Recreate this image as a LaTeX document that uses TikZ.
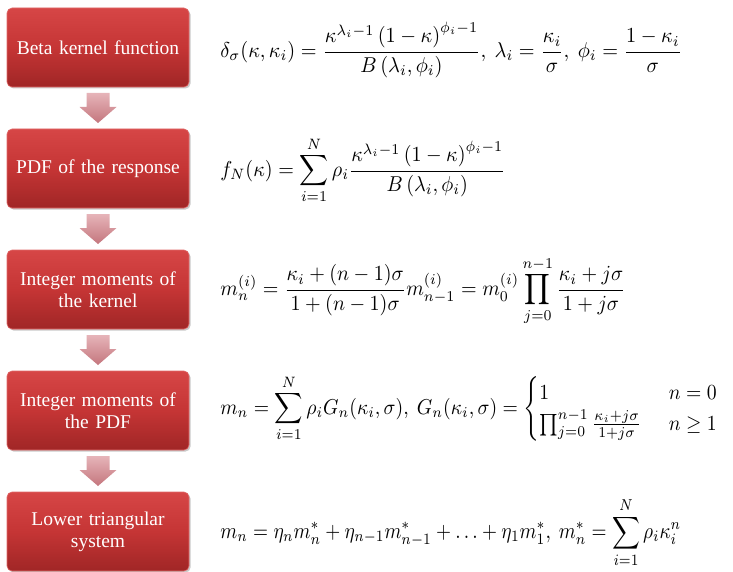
\documentclass[tikz,border=0pt]{standalone}
\usepackage{amsmath}
\usepackage{fontspec}
\setmainfont{Liberation Serif}
\usetikzlibrary{shadows,calc}
\definecolor{boxtop}{HTML}{D64646}
\definecolor{boxmid}{HTML}{C53535}
\definecolor{boxbot}{HTML}{A02626}
\definecolor{boxedge}{HTML}{E06A6A}
\definecolor{arrtop}{HTML}{E6B4B9}
\definecolor{arrbot}{HTML}{C4767D}
\begin{document}
\begin{tikzpicture}[x=1pt,y=-1pt,
  stepbox/.style={rounded corners=5pt, minimum width=182pt, minimum height=79pt,
    top color=boxtop, bottom color=boxbot, middle color=boxmid, draw=boxedge, line width=0.6pt,
    text=white, align=center, text width=170pt,
    font=\fontsize{19.5}{22}\selectfont,
    drop shadow={shadow xshift=1.5pt, shadow yshift=-1.5pt, opacity=0.35, fill=black!60}},
  formula/.style={anchor=base west, inner sep=0pt, font=\fontsize{10}{12}\selectfont, yscale=2.15, transform shape},
  arrowshade/.style={top color=arrtop, bottom color=arrbot, draw=none}
]
\useasboundingbox (0,0) rectangle (733,572);

\node[stepbox] (b1) at (98,47.5) {Beta kernel function};
\node[stepbox] (b2) at (98,168.5) {PDF of the response};
\node[stepbox] (b3) at (98,289.5) {Integer moments of\\the kernel};
\node[stepbox] (b4) at (98,410.5) {Integer moments of\\the PDF};
\node[stepbox] (b5) at (98,531.5) {Lower triangular\\system};

\foreach \a/\b in {b1/b2,b2/b3,b3/b4,b4/b5}{
  \coordinate (m) at ($(\a.south)!0.5!(\b.north)$);
  \path[arrowshade] ($(m)+(-11.5,-15)$) -- ++(23,0) -- ++(0,14) -- ++(7,0)
     -- ($(m)+(0,15)$) -- ($(m)+(-18.5,-1)$) -- ++(7,0) -- cycle;
}

\node[formula, xscale=2.03] (f1) at (220,57.4) {$\delta_\sigma(\kappa,\kappa_i)=\dfrac{\kappa^{\lambda_i-1}\left(1-\kappa\right)^{\phi_i-1}}{B\left(\lambda_i,\phi_i\right)},\ \lambda_i=\dfrac{\kappa_i}{\sigma},\ \phi_i=\dfrac{1-\kappa_i}{\sigma}$};
\node[formula, xscale=2.01] (f2) at (220,176.4) {$f_N(\kappa)=\displaystyle\sum_{i=1}^{N}\rho_i\frac{\kappa^{\lambda_i-1}\left(1-\kappa\right)^{\phi_i-1}}{B\left(\lambda_i,\phi_i\right)}$};
\node[formula, xscale=2.01] (f3) at (220,295.4) {$\displaystyle m_n^{(i)}=\frac{\kappa_i+(n-1)\sigma}{1+(n-1)\sigma}m_{n-1}^{(i)}=m_0^{(i)}\prod_{j=0}^{n-1}\frac{\kappa_i+j\sigma}{1+j\sigma}$};
\node[formula, xscale=1.97] (f4) at (220,414.4) {$\displaystyle m_n=\sum_{i=1}^{N}\rho_iG_n(\kappa_i,\sigma),\ G_n(\kappa_i,\sigma)=\begin{cases}1 & \hspace{4pt}n=0\\ \prod_{j=0}^{n-1}\frac{\kappa_i+j\sigma}{1+j\sigma} & \hspace{4pt}n\ge 1\end{cases}$};
\node[formula, xscale=1.93, yscale=1.05] (f5) at (220,538.5) {$\displaystyle m_n=\eta_nm_n^*+\eta_{n-1}m_{n-1}^*+\ldots+\eta_1m_1^*,\ m_n^*=\sum_{i=1}^{N}\rho_i\kappa_i^n$};
\end{tikzpicture}
\end{document}
